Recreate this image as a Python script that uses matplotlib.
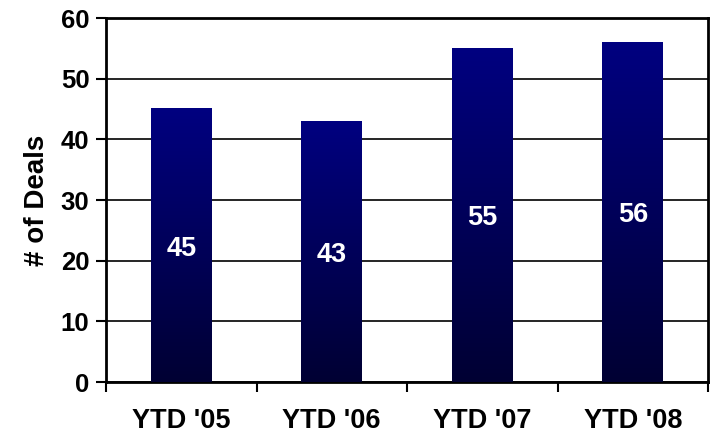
import numpy as np
import matplotlib
matplotlib.use("Agg")
import matplotlib.pyplot as plt
from matplotlib.colors import LinearSegmentedColormap

categories = ["YTD '05", "YTD '06", "YTD '07", "YTD '08"]
values = [45, 43, 55, 56]

plt.rcParams['font.family'] = ['Liberation Sans', 'DejaVu Sans']
fig = plt.figure(figsize=(7.11, 4.36), dpi=100)
ax = fig.add_axes([106/711, 1-382/436, (708-106)/711, (382-18)/436])

x = np.arange(len(categories))
width = 0.405
cmap = LinearSegmentedColormap.from_list('g', ['#000033', '#000080'])
grad = np.linspace(0, 1, 256).reshape(-1, 1)
bars = ax.bar(x, values, width=width, color='none', zorder=3)
for b, v in zip(bars, values):
    x0 = b.get_x()
    ax.imshow(grad, extent=[x0, x0 + b.get_width(), 0, v], origin='lower',
              cmap=cmap, aspect='auto', zorder=3)
    ax.text(b.get_x() + b.get_width()/2, v/2, str(v), ha='center', va='center_baseline',
            color='white', fontsize=19.5, fontweight='bold', zorder=4)

ax.set_xlim(-0.5, len(categories) - 0.5)
ax.set_ylim(0, 60)
ax.set_yticks(range(0, 61, 10))
ax.yaxis.grid(True, color='black', linewidth=1.2, zorder=0)
ax.set_axisbelow(True)
ax.set_xticks(x)
ax.set_xticklabels(categories, fontsize=19.5, fontweight='bold')
ax.tick_params(axis='x', length=0, pad=19)
ax.set_xticks(np.arange(-0.5, len(categories)), minor=True)
ax.tick_params(axis='x', which='minor', length=7, width=1.5, direction='out')
ax.tick_params(axis='y', length=7, width=1.5, labelsize=18.5, pad=5)
for lab in ax.get_yticklabels():
    lab.set_fontweight('bold')
for s in ax.spines.values():
    s.set_linewidth(2)
ax.set_ylabel('# of Deals', fontsize=20, fontweight='bold', labelpad=8)

fig.savefig('out.png', dpi=100)
